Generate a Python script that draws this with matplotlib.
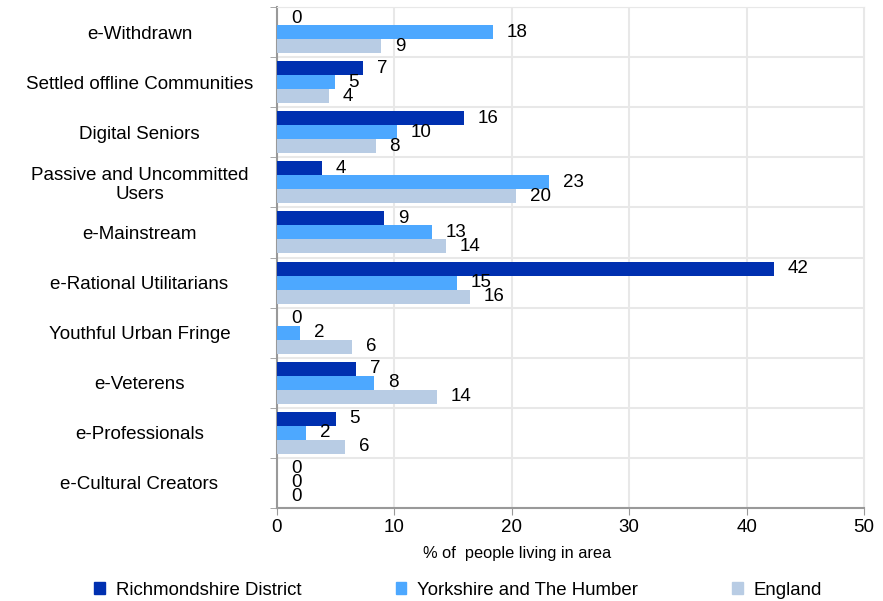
import numpy as np
from matplotlib import pyplot as plt
from matplotlib.patches import Patch

plt.rcParams['font.family'] = ['Liberation Sans', 'DejaVu Sans']

categories = ['e-Withdrawn', 'Settled offline Communities', 'Digital Seniors',
              'Passive and Uncommitted\nUsers', 'e-Mainstream', 'e-Rational Utilitarians',
              'Youthful Urban Fringe', 'e-Veterens', 'e-Professionals', 'e-Cultural Creators']
series_names = ['Richmondshire District', 'Yorkshire and The Humber', 'England']
richmondshire = [0, 7.3, 15.9, 3.8, 9.1, 42.3, 0, 6.7, 5.0, 0]
yorkshire = [18.4, 4.9, 10.2, 23.2, 13.2, 15.3, 2.0, 8.3, 2.5, 0]
england = [8.9, 4.4, 8.4, 20.4, 14.4, 16.4, 6.4, 13.6, 5.8, 0]
colors = ['#0030B0', '#4DA8FF', '#B8CCE4']

fig = plt.figure(figsize=(8.83, 6.01), dpi=100)
ax = fig.add_axes([277 / 883, 1 - 508 / 601, 587 / 883, 501 / 601])

y = np.arange(len(categories))
h = 0.28
for k, (vals, col) in enumerate(zip([richmondshire, yorkshire, england], colors)):
    pos = y + (k - 1) * h
    ax.barh(pos, vals, height=h, color=col, zorder=3)
    for p, v in zip(pos, vals):
        ax.annotate(f'{v:.0f}', (v, p), xytext=(10, 0), textcoords='offset points',
                    ha='left', va='center', fontsize=13.5, color='black', zorder=4)

ax.set_xlim(0, 50)
ax.set_ylim(len(categories) - 0.5, -0.5)
ax.set_xticks(range(0, 51, 10))
ax.set_yticks(y)
ax.set_yticklabels(categories, fontsize=13.5, ha='center', linespacing=1.15)
ax.tick_params(axis='y', which='major', length=0, pad=99)
ax.set_yticks(np.arange(-0.5, len(categories), 1), minor=True)
ax.tick_params(axis='y', which='minor', length=5, color='#999999', direction='out')
ax.tick_params(axis='x', labelsize=13.5, length=5, color='#999999', pad=3)

ax.grid(axis='x', color='#E8E8E8', linewidth=1.5, zorder=0)
ax.grid(axis='y', which='minor', color='#E8E8E8', linewidth=1.5, zorder=0)
for s in ['top', 'right']:
    ax.spines[s].set_color('#E8E8E8')
for s in ['left', 'bottom']:
    ax.spines[s].set_color('#999999')
    ax.spines[s].set_linewidth(1.5)

ax.set_xlabel('% of  people living in area', fontsize=11.8, labelpad=12)
ax.xaxis.set_label_coords((517 - 277) / 587, -0.075)

handles = [Patch(color=c) for c in colors]
fig.legend(handles, series_names, loc='lower left', bbox_to_anchor=(0.088, -0.024, 0.862, 0.05),
           mode='expand', ncol=3, frameon=False, fontsize=13.4,
           handlelength=0.55, handleheight=0.55, handletextpad=0.6)

fig.savefig('out.png', dpi=100)
